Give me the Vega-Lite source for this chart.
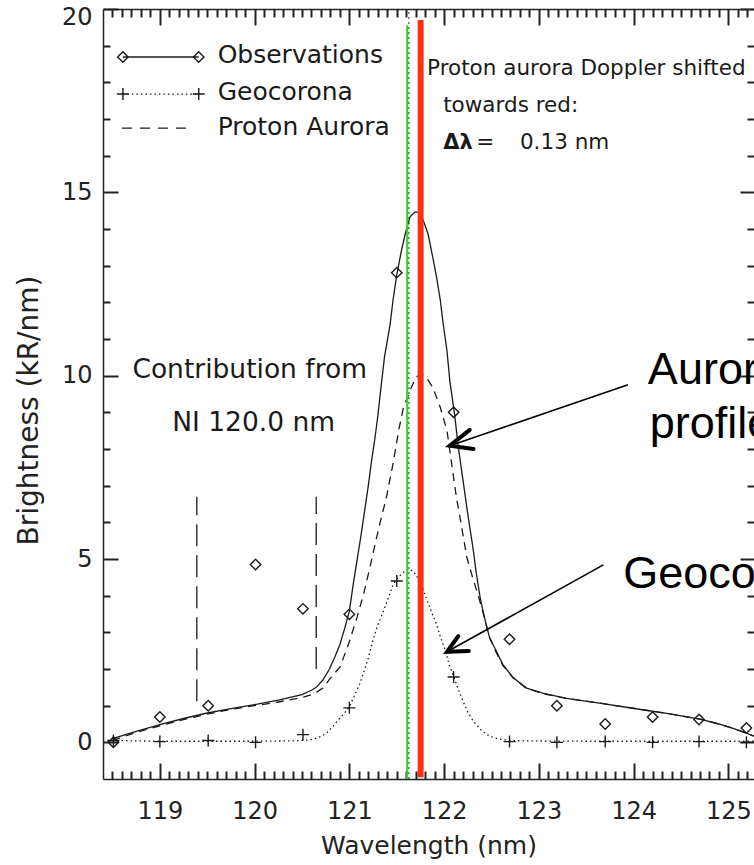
{
  "$schema": "https://vega.github.io/schema/vega-lite/v6.json",
  "autosize": "none",
  "padding": {"left": 103, "top": 9, "right": 0, "bottom": 86},
  "width": 651,
  "height": 770,
  "background": "white",
  "config": {
    "view": {"stroke": null},
    "font": "DejaVu Sans",
    "axis": {"grid": false, "domainColor": "#222", "domainWidth": 1.5, "tickColor": "#222", "tickWidth": 2, "labelColor": "#222", "titleColor": "#222", "labelFont": "DejaVu Sans", "titleFont": "DejaVu Sans", "titleFontWeight": "normal"}
  },
  "datasets": {
    "obs_curve": [
      {"w": 118.5, "b": 0.1}, {"w": 118.75, "b": 0.3}, {"w": 119.0, "b": 0.48}, {"w": 119.25, "b": 0.65}, {"w": 119.5, "b": 0.8}, {"w": 119.75, "b": 0.92}, {"w": 120.0, "b": 1.03}, {"w": 120.25, "b": 1.15}, {"w": 120.5, "b": 1.3}, {"w": 120.6, "b": 1.42}, {"w": 120.65, "b": 1.5}, {"w": 120.72, "b": 1.7}, {"w": 120.79, "b": 2.0}, {"w": 120.85, "b": 2.35}, {"w": 120.9, "b": 2.67}, {"w": 120.95, "b": 3.1}, {"w": 121.0, "b": 3.58}, {"w": 121.04, "b": 4.3}, {"w": 121.08, "b": 4.95}, {"w": 121.12, "b": 5.6}, {"w": 121.16, "b": 6.3}, {"w": 121.2, "b": 7.0}, {"w": 121.23, "b": 7.6}, {"w": 121.27, "b": 8.3}, {"w": 121.3, "b": 8.9}, {"w": 121.33, "b": 9.6}, {"w": 121.37, "b": 10.5}, {"w": 121.43, "b": 11.4}, {"w": 121.46, "b": 12.05}, {"w": 121.5, "b": 12.75}, {"w": 121.55, "b": 13.42}, {"w": 121.59, "b": 13.87}, {"w": 121.64, "b": 14.33}, {"w": 121.69, "b": 14.46}, {"w": 121.73, "b": 14.46}, {"w": 121.78, "b": 14.23}, {"w": 121.83, "b": 13.87}, {"w": 121.88, "b": 13.23}, {"w": 121.92, "b": 12.69}, {"w": 121.96, "b": 12.05}, {"w": 121.99, "b": 11.41}, {"w": 122.03, "b": 10.68}, {"w": 122.06, "b": 9.86}, {"w": 122.11, "b": 8.95}, {"w": 122.15, "b": 8.04}, {"w": 122.2, "b": 7.13}, {"w": 122.25, "b": 6.22}, {"w": 122.31, "b": 5.2}, {"w": 122.34, "b": 4.6}, {"w": 122.38, "b": 3.95}, {"w": 122.41, "b": 3.58}, {"w": 122.45, "b": 3.15}, {"w": 122.48, "b": 2.85}, {"w": 122.55, "b": 2.49}, {"w": 122.62, "b": 2.12}, {"w": 122.73, "b": 1.76}, {"w": 122.87, "b": 1.48}, {"w": 123.04, "b": 1.34}, {"w": 123.29, "b": 1.2}, {"w": 123.64, "b": 1.07}, {"w": 123.99, "b": 0.93}, {"w": 124.35, "b": 0.79}, {"w": 124.7, "b": 0.63}, {"w": 124.9, "b": 0.5}, {"w": 125.05, "b": 0.38}, {"w": 125.19, "b": 0.25}, {"w": 125.27, "b": 0.17}
    ],
    "aur_curve": [
      {"w": 118.5, "b": 0.05}, {"w": 118.75, "b": 0.27}, {"w": 119.0, "b": 0.45}, {"w": 119.25, "b": 0.62}, {"w": 119.5, "b": 0.77}, {"w": 119.75, "b": 0.9}, {"w": 120.0, "b": 1.0}, {"w": 120.25, "b": 1.1}, {"w": 120.5, "b": 1.22}, {"w": 120.6, "b": 1.3}, {"w": 120.65, "b": 1.36}, {"w": 120.72, "b": 1.48}, {"w": 120.8, "b": 1.75}, {"w": 120.9, "b": 2.05}, {"w": 120.99, "b": 2.67}, {"w": 121.08, "b": 3.4}, {"w": 121.15, "b": 4.04}, {"w": 121.22, "b": 4.81}, {"w": 121.28, "b": 5.5}, {"w": 121.32, "b": 5.95}, {"w": 121.39, "b": 6.67}, {"w": 121.46, "b": 7.59}, {"w": 121.52, "b": 8.5}, {"w": 121.57, "b": 9.13}, {"w": 121.64, "b": 9.59}, {"w": 121.7, "b": 9.95}, {"w": 121.76, "b": 10.05}, {"w": 121.82, "b": 9.92}, {"w": 121.88, "b": 9.68}, {"w": 121.96, "b": 9.13}, {"w": 122.03, "b": 8.5}, {"w": 122.08, "b": 7.59}, {"w": 122.13, "b": 6.67}, {"w": 122.18, "b": 5.95}, {"w": 122.24, "b": 5.04}, {"w": 122.3, "b": 4.5}, {"w": 122.36, "b": 4.0}, {"w": 122.41, "b": 3.55}, {"w": 122.45, "b": 3.15}, {"w": 122.48, "b": 2.85}, {"w": 122.55, "b": 2.45}, {"w": 122.62, "b": 2.1}, {"w": 122.73, "b": 1.75}, {"w": 122.87, "b": 1.47}, {"w": 123.04, "b": 1.33}, {"w": 123.29, "b": 1.2}, {"w": 123.64, "b": 1.07}, {"w": 123.99, "b": 0.93}, {"w": 124.35, "b": 0.79}, {"w": 124.7, "b": 0.63}, {"w": 124.9, "b": 0.5}, {"w": 125.05, "b": 0.38}, {"w": 125.19, "b": 0.25}, {"w": 125.27, "b": 0.17}
    ],
    "geo_curve": [
      {"w": 118.5, "b": 0.05}, {"w": 119.0, "b": 0.03}, {"w": 119.5, "b": 0.03}, {"w": 120.0, "b": 0.03}, {"w": 120.4, "b": 0.04}, {"w": 120.55, "b": 0.06}, {"w": 120.61, "b": 0.08}, {"w": 120.7, "b": 0.16}, {"w": 120.76, "b": 0.25}, {"w": 120.83, "b": 0.45}, {"w": 120.89, "b": 0.63}, {"w": 120.95, "b": 0.8}, {"w": 121.0, "b": 0.98}, {"w": 121.05, "b": 1.25}, {"w": 121.11, "b": 1.6}, {"w": 121.15, "b": 1.9}, {"w": 121.2, "b": 2.3}, {"w": 121.25, "b": 2.8}, {"w": 121.3, "b": 3.2}, {"w": 121.36, "b": 3.58}, {"w": 121.42, "b": 4.0}, {"w": 121.46, "b": 4.3}, {"w": 121.5, "b": 4.45}, {"w": 121.56, "b": 4.62}, {"w": 121.62, "b": 4.72}, {"w": 121.67, "b": 4.68}, {"w": 121.71, "b": 4.54}, {"w": 121.76, "b": 4.28}, {"w": 121.81, "b": 3.94}, {"w": 121.86, "b": 3.6}, {"w": 121.92, "b": 3.22}, {"w": 121.96, "b": 2.88}, {"w": 122.01, "b": 2.53}, {"w": 122.05, "b": 2.15}, {"w": 122.1, "b": 1.8}, {"w": 122.15, "b": 1.45}, {"w": 122.2, "b": 1.12}, {"w": 122.25, "b": 0.82}, {"w": 122.31, "b": 0.57}, {"w": 122.38, "b": 0.36}, {"w": 122.45, "b": 0.21}, {"w": 122.53, "b": 0.12}, {"w": 122.62, "b": 0.07}, {"w": 122.8, "b": 0.04}, {"w": 123.5, "b": 0.03}, {"w": 124.5, "b": 0.03}, {"w": 125.27, "b": 0.03}
    ],
    "obs_pts": [
      {"w": 118.51, "b": 0.0}, {"w": 119.0, "b": 0.69}, {"w": 119.51, "b": 1.0}, {"w": 120.01, "b": 4.85}, {"w": 120.51, "b": 3.64}, {"w": 121.0, "b": 3.49}, {"w": 121.5, "b": 12.81}, {"w": 122.1, "b": 9.0}, {"w": 122.69, "b": 2.81}, {"w": 123.19, "b": 1.0}, {"w": 123.7, "b": 0.5}, {"w": 124.2, "b": 0.69}, {"w": 124.69, "b": 0.62}, {"w": 125.19, "b": 0.39}
    ],
    "geo_pts": [
      {"w": 118.51, "b": 0.05}, {"w": 119.0, "b": 0.02}, {"w": 119.51, "b": 0.05}, {"w": 120.01, "b": 0.0}, {"w": 120.51, "b": 0.21}, {"w": 121.0, "b": 0.94}, {"w": 121.5, "b": 4.4}, {"w": 122.1, "b": 1.78}, {"w": 122.69, "b": 0.02}, {"w": 123.19, "b": 0.0}, {"w": 123.7, "b": 0.02}, {"w": 124.2, "b": 0.0}, {"w": 124.69, "b": 0.02}, {"w": 125.19, "b": 0.0}
    ],
    "leg_obs": [{"w": 118.61, "b": 18.69}, {"w": 119.41, "b": 18.69}],
    "leg_geo": [{"w": 118.61, "b": 17.68}, {"w": 119.41, "b": 17.68}],
    "leg_aur": [{"w": 118.6, "b": 16.75}, {"w": 119.33, "b": 16.75}],
    "leg_text": [
      {"w": 119.61, "b": 18.52, "t": "Observations"},
      {"w": 119.61, "b": 17.51, "t": "Geocorona"},
      {"w": 119.61, "b": 16.56, "t": "Proton Aurora"}
    ],
    "note_text": [
      {"w": 121.82, "b": 18.2, "t": "Proton aurora Doppler shifted"},
      {"w": 121.99, "b": 17.19, "t": "towards red:"},
      {"w": 122.34, "b": 16.19, "t": "="},
      {"w": 122.8, "b": 16.19, "t": "0.13 nm"}
    ],
    "delta_text": [
      {"w": 121.99, "b": 16.19, "t": "Δλ"}
    ],
    "ni_text": [
      {"w": 118.71, "b": 9.95, "t": "Contribution from"},
      {"w": 119.13, "b": 8.5, "t": "NI 120.0 nm"}
    ],
    "big_text": [
      {"w": 124.15, "b": 9.78, "t": "Aurora"},
      {"w": 124.17, "b": 8.31, "t": "profile"},
      {"w": 123.89, "b": 4.21, "t": "Geocorona"}
    ],
    "ni_lines": [
      {"w": 119.39, "b1": 1.12, "b2": 6.7},
      {"w": 120.65, "b1": 2.0, "b2": 6.7}
    ],
    "green_line": [{"w": 121.61, "b1": -1, "b2": 19.56}],
    "dot_line": [{"w": 121.628, "b1": -1, "b2": 20}],
    "red_line": [{"w": 121.752, "b1": -0.95, "b2": 19.7}],
    "arrow_shafts": [
      {"arrow": "aurora", "ord": 0, "w": 123.94, "b": 9.75}, {"arrow": "aurora", "ord": 1, "w": 122.06, "b": 8.09},
      {"arrow": "geo", "ord": 0, "w": 123.68, "b": 4.84}, {"arrow": "geo", "ord": 1, "w": 122.03, "b": 2.47}
    ],
    "arrow_heads": [
      {"arrow": "aurora", "ord": 0, "w": 122.27, "b": 8.52}, {"arrow": "aurora", "ord": 1, "w": 122.06, "b": 8.09}, {"arrow": "aurora", "ord": 2, "w": 122.31, "b": 8.0},
      {"arrow": "geo", "ord": 0, "w": 122.15, "b": 2.9}, {"arrow": "geo", "ord": 1, "w": 122.03, "b": 2.47}, {"arrow": "geo", "ord": 2, "w": 122.26, "b": 2.49}
    ]
  },
  "resolve": {"axis": {"x": "independent", "y": "independent"}},
  "layer": [
    {
      "data": {"name": "obs_curve"},
      "mark": {"type": "line", "color": "#1a1a1a", "strokeWidth": 1.3},
      "encoding": {
        "x": {"field": "w", "type": "quantitative", "scale": {"domain": [118.4, 125.27], "nice": false, "zero": false},
          "axis": {"orient": "bottom", "values": [119, 120, 121, 122, 123, 124, 125], "ticks": false, "labelFontSize": 24, "labelPadding": 20, "title": "Wavelength (nm)", "titleFontSize": 25, "titlePadding": 10}},
        "y": {"field": "b", "type": "quantitative", "scale": {"domain": [-1, 20], "nice": false, "zero": false},
          "axis": {"orient": "left", "values": [0, 5, 10, 15, 20], "ticks": false, "labelFontSize": 24, "labelPadding": 11, "labelFlush": true, "labelFlushOffset": 4, "title": "Brightness (kR/nm)", "titleFontSize": 28, "titleBaseline": "alphabetic", "titleX": -66, "titleY": 401}}
      }
    },
    {
      "data": {"name": "geo_curve"},
      "mark": {"type": "line", "color": "#1a1a1a", "strokeWidth": 1.3, "strokeDash": [1.5, 3]},
      "encoding": {
        "x": {"field": "w", "type": "quantitative",
          "axis": {"orient": "top", "offset": -770, "values": [119, 120, 121, 122, 123, 124, 125], "tickSize": 16, "labels": false, "domain": false, "title": null}},
        "y": {"field": "b", "type": "quantitative",
          "axis": {"orient": "right", "offset": -651, "values": [0, 5, 10, 15, 20], "tickSize": 15, "labels": false, "domain": false, "title": null}}
      }
    },
    {
      "data": {"name": "aur_curve"},
      "mark": {"type": "line", "color": "#1a1a1a", "strokeWidth": 1.3, "strokeDash": [8, 6]},
      "encoding": {
        "x": {"field": "w", "type": "quantitative",
          "axis": {"orient": "top", "offset": -770, "values": [118.5, 118.6, 118.7, 118.8, 118.9, 119.1, 119.2, 119.3, 119.4, 119.5, 119.6, 119.7, 119.8, 119.9, 120.1, 120.2, 120.3, 120.4, 120.5, 120.6, 120.7, 120.8, 120.9, 121.1, 121.2, 121.3, 121.4, 121.5, 121.6, 121.7, 121.8, 121.9, 122.1, 122.2, 122.3, 122.4, 122.5, 122.6, 122.7, 122.8, 122.9, 123.1, 123.2, 123.3, 123.4, 123.5, 123.6, 123.7, 123.8, 123.9, 124.1, 124.2, 124.3, 124.4, 124.5, 124.6, 124.7, 124.8, 124.9, 125.1, 125.2], "tickSize": 8, "labels": false, "domain": false, "title": null}},
        "y": {"field": "b", "type": "quantitative",
          "axis": {"orient": "right", "offset": -651, "values": [1, 2, 3, 4, 6, 7, 8, 9, 11, 12, 13, 14, 16, 17, 18, 19], "tickSize": 7, "labels": false, "domain": false, "title": null}}
      }
    },
    {
      "data": {"name": "obs_pts"},
      "mark": {"type": "point", "shape": "diamond", "filled": false, "color": "#1a1a1a", "strokeWidth": 1.4, "size": 110, "opacity": 1},
      "encoding": {
        "x": {"field": "w", "type": "quantitative",
          "axis": {"orient": "top", "values": [119, 120, 121, 122, 123, 124, 125], "tickSize": -16, "labels": false, "title": null}},
        "y": {"field": "b", "type": "quantitative",
          "axis": {"orient": "right", "values": [0, 5, 10, 15, 20], "tickSize": -14, "labels": false, "domain": false, "title": null}}
      }
    },
    {
      "data": {"name": "geo_pts"},
      "mark": {"type": "point", "shape": "M-1,0L1,0M0,-1L0,1", "filled": false, "color": "#1a1a1a", "strokeWidth": 1.4, "size": 144, "opacity": 1},
      "encoding": {
        "x": {"field": "w", "type": "quantitative",
          "axis": {"orient": "top", "values": [118.5, 118.6, 118.7, 118.8, 118.9, 119.1, 119.2, 119.3, 119.4, 119.5, 119.6, 119.7, 119.8, 119.9, 120.1, 120.2, 120.3, 120.4, 120.5, 120.6, 120.7, 120.8, 120.9, 121.1, 121.2, 121.3, 121.4, 121.5, 121.6, 121.7, 121.8, 121.9, 122.1, 122.2, 122.3, 122.4, 122.5, 122.6, 122.7, 122.8, 122.9, 123.1, 123.2, 123.3, 123.4, 123.5, 123.6, 123.7, 123.8, 123.9, 124.1, 124.2, 124.3, 124.4, 124.5, 124.6, 124.7, 124.8, 124.9, 125.1, 125.2], "tickSize": -8, "labels": false, "domain": false, "title": null}},
        "y": {"field": "b", "type": "quantitative",
          "axis": {"orient": "right", "values": [1, 2, 3, 4, 6, 7, 8, 9, 11, 12, 13, 14, 16, 17, 18, 19], "tickSize": -7, "labels": false, "domain": false, "title": null}}
      }
    },
    {
      "data": {"name": "ni_lines"},
      "mark": {"type": "rule", "color": "#1a1a1a", "strokeWidth": 1.3, "strokeDash": [22, 9]},
      "encoding": {
        "x": {"field": "w", "type": "quantitative", "axis": null},
        "y": {"field": "b1", "type": "quantitative", "axis": null},
        "y2": {"field": "b2"}
      }
    },
    {
      "data": {"name": "leg_obs"},
      "mark": {"type": "line", "color": "#1a1a1a", "strokeWidth": 1.4},
      "encoding": {"x": {"field": "w", "type": "quantitative", "axis": null}, "y": {"field": "b", "type": "quantitative", "axis": null}}
    },
    {
      "data": {"name": "leg_obs"},
      "mark": {"type": "point", "shape": "diamond", "filled": false, "color": "#1a1a1a", "strokeWidth": 1.4, "size": 110, "opacity": 1},
      "encoding": {"x": {"field": "w", "type": "quantitative", "axis": null}, "y": {"field": "b", "type": "quantitative", "axis": null}}
    },
    {
      "data": {"name": "leg_geo"},
      "mark": {"type": "line", "color": "#1a1a1a", "strokeWidth": 1.3, "strokeDash": [1.5, 3]},
      "encoding": {"x": {"field": "w", "type": "quantitative", "axis": null}, "y": {"field": "b", "type": "quantitative", "axis": null}}
    },
    {
      "data": {"name": "leg_geo"},
      "mark": {"type": "point", "shape": "M-1,0L1,0M0,-1L0,1", "filled": false, "color": "#1a1a1a", "strokeWidth": 1.4, "size": 144, "opacity": 1},
      "encoding": {"x": {"field": "w", "type": "quantitative", "axis": null}, "y": {"field": "b", "type": "quantitative", "axis": null}}
    },
    {
      "data": {"name": "leg_aur"},
      "mark": {"type": "line", "color": "#1a1a1a", "strokeWidth": 1.3, "strokeDash": [10, 8]},
      "encoding": {"x": {"field": "w", "type": "quantitative", "axis": null}, "y": {"field": "b", "type": "quantitative", "axis": null}}
    },
    {
      "data": {"name": "leg_text"},
      "mark": {"type": "text", "align": "left", "baseline": "alphabetic", "fontSize": 25, "font": "DejaVu Sans", "color": "#1a1a1a"},
      "encoding": {"x": {"field": "w", "type": "quantitative", "axis": null}, "y": {"field": "b", "type": "quantitative", "axis": null}, "text": {"field": "t"}}
    },
    {
      "data": {"name": "note_text"},
      "mark": {"type": "text", "align": "left", "baseline": "alphabetic", "fontSize": 21.5, "font": "DejaVu Sans", "color": "#1a1a1a"},
      "encoding": {"x": {"field": "w", "type": "quantitative", "axis": null}, "y": {"field": "b", "type": "quantitative", "axis": null}, "text": {"field": "t"}}
    },
    {
      "data": {"name": "delta_text"},
      "mark": {"type": "text", "align": "left", "baseline": "alphabetic", "fontSize": 21, "font": "DejaVu Sans", "fontWeight": "bold", "color": "#1a1a1a"},
      "encoding": {"x": {"field": "w", "type": "quantitative", "axis": null}, "y": {"field": "b", "type": "quantitative", "axis": null}, "text": {"field": "t"}}
    },
    {
      "data": {"name": "ni_text"},
      "mark": {"type": "text", "align": "left", "baseline": "alphabetic", "fontSize": 26.5, "font": "DejaVu Sans", "color": "#1a1a1a"},
      "encoding": {"x": {"field": "w", "type": "quantitative", "axis": null}, "y": {"field": "b", "type": "quantitative", "axis": null}, "text": {"field": "t"}}
    },
    {
      "data": {"name": "green_line"},
      "mark": {"type": "rule", "color": "#22dd22", "strokeWidth": 2},
      "encoding": {"x": {"field": "w", "type": "quantitative", "axis": null}, "y": {"field": "b1", "type": "quantitative", "axis": null}, "y2": {"field": "b2"}}
    },
    {
      "data": {"name": "dot_line"},
      "mark": {"type": "rule", "color": "#333333", "strokeWidth": 1, "strokeDash": [2, 3]},
      "encoding": {"x": {"field": "w", "type": "quantitative", "axis": null}, "y": {"field": "b1", "type": "quantitative", "axis": null}, "y2": {"field": "b2"}}
    },
    {
      "data": {"name": "red_line"},
      "mark": {"type": "rule", "color": "#ff3010", "strokeWidth": 6},
      "encoding": {"x": {"field": "w", "type": "quantitative", "axis": null}, "y": {"field": "b1", "type": "quantitative", "axis": null}, "y2": {"field": "b2"}}
    },
    {
      "data": {"name": "arrow_shafts"},
      "mark": {"type": "line", "color": "#000000", "strokeWidth": 1.6},
      "encoding": {"x": {"field": "w", "type": "quantitative", "axis": null}, "y": {"field": "b", "type": "quantitative", "axis": null}, "detail": {"field": "arrow"}, "order": {"field": "ord"}}
    },
    {
      "data": {"name": "arrow_heads"},
      "mark": {"type": "line", "color": "#000000", "strokeWidth": 4, "strokeCap": "round", "strokeJoin": "miter"},
      "encoding": {"x": {"field": "w", "type": "quantitative", "axis": null}, "y": {"field": "b", "type": "quantitative", "axis": null}, "detail": {"field": "arrow"}, "order": {"field": "ord"}}
    },
    {
      "data": {"name": "big_text"},
      "mark": {"type": "text", "align": "left", "baseline": "alphabetic", "fontSize": 45, "font": "Liberation Sans", "color": "#000000"},
      "encoding": {"x": {"field": "w", "type": "quantitative", "axis": null}, "y": {"field": "b", "type": "quantitative", "axis": null}, "text": {"field": "t"}}
    }
  ]
}
